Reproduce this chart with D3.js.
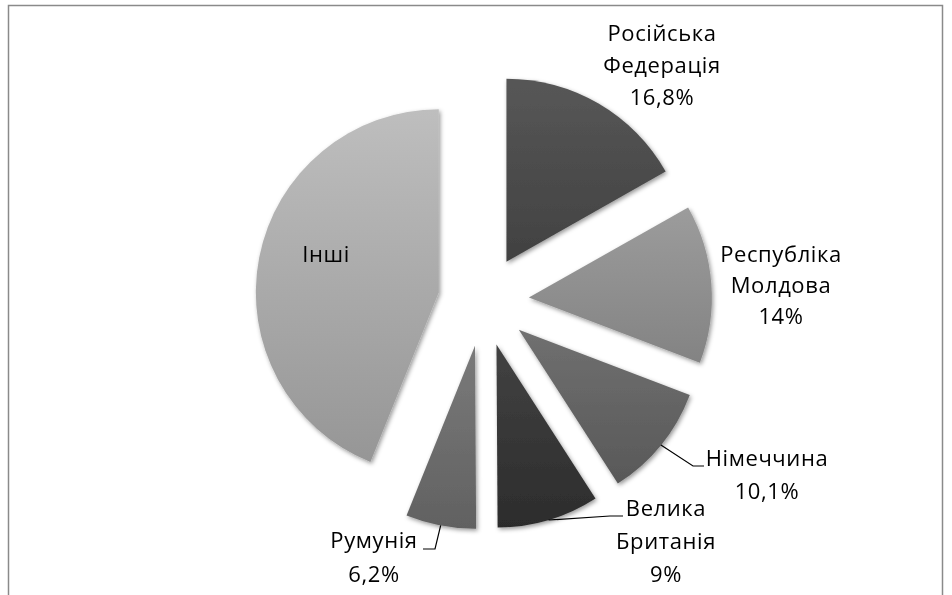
<!DOCTYPE html>
<html>
<head>
<meta charset="utf-8">
<script src="https://cdn.jsdelivr.net/npm/d3@7"></script>
<style>
  html, body { margin: 0; padding: 0; background: #fff; }
  svg { display: block; }
  text { font-family: "Open Sans", Lato, sans-serif; fill: #000; }
</style>
</head>
<body>
<svg id="chart" width="952" height="595"></svg>
<script>
// Export partners, share of total (%)
const countries = ["Російська Федерація", "Республіка Молдова", "Німеччина", "Велика Британія", "Румунія", "Інші"];
const shares = [16.8, 14, 10.1, 9, 6.2, 43.9];
const shareLabels = ["16,8%", "14%", "10,1%", "9%", "6,2%", null];

// Label text lines (the percentage goes on the last line)
const labelLines = [
  ["Російська", "Федерація"],
  ["Республіка", "Молдова"],
  ["Німеччина"],
  ["Велика", "Британія"],
  ["Румунія"],
  ["Інші"]
];

// Slice fills: vertical gradient, top colour -> bottom colour
const fillTop = ["#575757", "#9c9c9c", "#707070", "#424242", "#7a7a7a", "#bebebe"];
const fillBottom = ["#414141", "#838383", "#585858", "#2c2c2c", "#616161", "#969696"];

const W = 952, H = 595;
const cx = 483.5, cy = 301, R = 183, explode = 45.5;

// Label layout: centre x of the text block, baseline of first line, line step
const labelLayout = [
  { x: 662, y: 41, step: 32 },
  { x: 781, y: 262, step: 31 },
  { x: 767, y: 466, step: 33 },
  { x: 666, y: 516, step: 33 },
  { x: 374, y: 548, step: 34 },
  { x: 326, y: 262, step: 31 }
];
// Leader lines: elbow point and end point (near the label)
const leaderLayout = [
  null, null,
  { elbow: [693, 466], end: [704, 466] },
  { elbow: [610, 516], end: [623, 516] },
  { elbow: [435, 549], end: [423, 549] },
  null
];

const svg = d3.select("#chart");
const defs = svg.append("defs");

// Soft drop shadow beneath the slices
const shadow = defs.append("filter").attr("id", "shadow")
  .attr("x", "-10%").attr("y", "-10%").attr("width", "130%").attr("height", "130%");
shadow.append("feDropShadow")
  .attr("dx", 1.5).attr("dy", 2).attr("stdDeviation", 2)
  .attr("flood-color", "#000").attr("flood-opacity", 0.4);

shares.forEach((_, i) => {
  const g = defs.append("linearGradient").attr("id", "grad" + i)
    .attr("x1", 0).attr("y1", 0).attr("x2", 0).attr("y2", 1);
  g.append("stop").attr("offset", "0%").attr("stop-color", fillTop[i]);
  g.append("stop").attr("offset", "100%").attr("stop-color", fillBottom[i]);
});

// Frame around the chart area
svg.append("path")
  .attr("d", `M8.5,${H} V5.5 H942.5 V${H}`)
  .attr("fill", "none").attr("stroke", "#8a8a8a").attr("stroke-width", 1.5);

const pie = d3.pie().sort(null).value(d => d).startAngle(0).endAngle(2 * Math.PI);
const arcs = pie(shares);
const arc = d3.arc().innerRadius(0).outerRadius(R);

const offsetOf = a => {
  const m = (a.startAngle + a.endAngle) / 2;
  return [cx + explode * Math.sin(m), cy - explode * Math.cos(m)];
};

const slices = svg.append("g").attr("filter", "url(#shadow)");
slices.selectAll("path")
  .data(arcs)
  .join("path")
  .attr("transform", d => `translate(${offsetOf(d)})`)
  .attr("d", arc)
  .attr("fill", (d, i) => `url(#grad${i})`);

// Leader lines from the middle of the outer arc to the label
arcs.forEach((a, i) => {
  const L = leaderLayout[i];
  if (!L) return;
  const m = (a.startAngle + a.endAngle) / 2;
  const [ox, oy] = offsetOf(a);
  const sx = ox + R * Math.sin(m), sy = oy - R * Math.cos(m);
  svg.append("path")
    .attr("d", d3.line()([[sx, sy], L.elbow, L.end]))
    .attr("fill", "none").attr("stroke", "#000").attr("stroke-width", 1.2);
});

// Labels
const labels = svg.append("g").attr("font-size", 22).attr("letter-spacing", 0.6);
countries.forEach((c, i) => {
  const lay = labelLayout[i];
  const lines = labelLines[i].slice();
  if (shareLabels[i]) lines.push(shareLabels[i]);
  const t = labels.append("text").attr("text-anchor", "middle");
  lines.forEach((ln, k) => {
    t.append("tspan").attr("x", lay.x).attr("y", lay.y + k * lay.step).text(ln);
  });
});
</script>
</body>
</html>
